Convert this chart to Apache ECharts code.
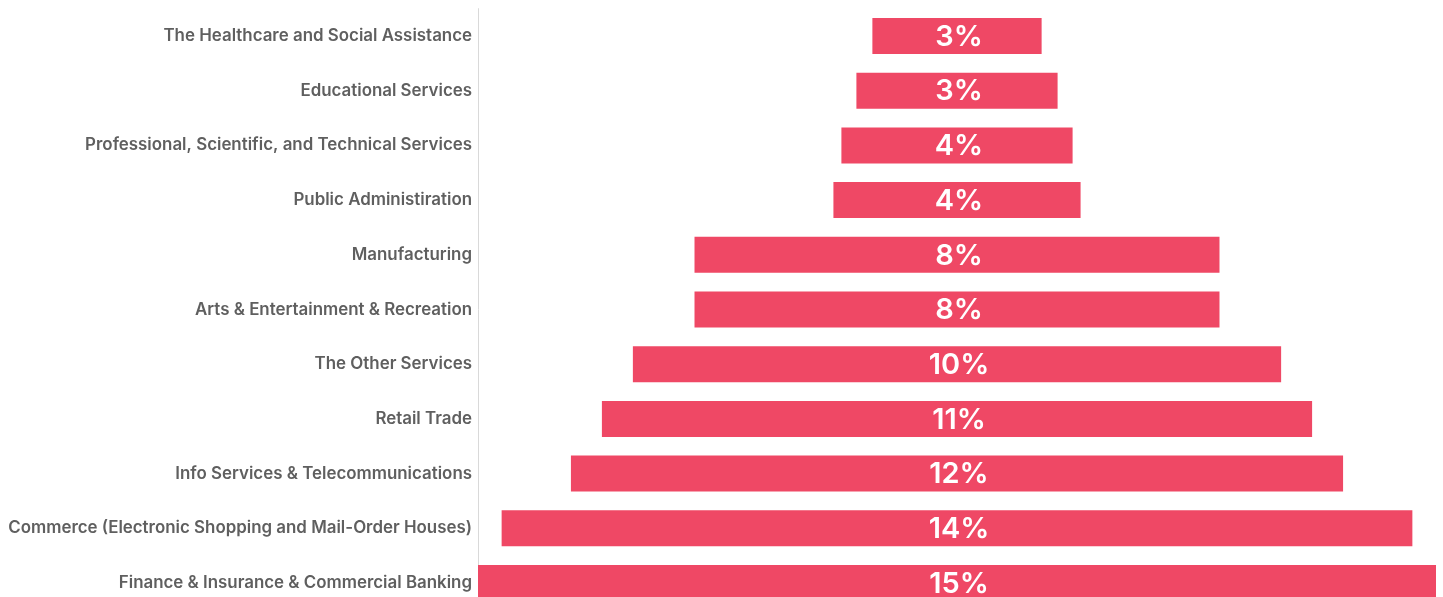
<!DOCTYPE html>
<html>
<head>
<meta charset="utf-8">
<script src="https://cdn.jsdelivr.net/npm/echarts@6/dist/echarts.min.js"></script>
<style>html,body{margin:0;padding:0;background:#fff;overflow:hidden;}#c{width:1443px;height:611px;}</style>
</head>
<body>
<div id="c"></div>
<script>
const categories = [
  "The Healthcare and Social Assistance",
  "Educational Services",
  "Professional, Scientific, and Technical Services",
  "Public Administiration",
  "Manufacturing",
  "Arts & Entertainment & Recreation",
  "The Other Services",
  "Retail Trade",
  "Info Services & Telecommunications",
  "Commerce (Electronic Shopping and Mail-Order Houses)",
  "Finance & Insurance & Commercial Banking"
];
const values = [2.65, 3.15, 3.62, 3.87, 8.22, 8.22, 10.15, 11.12, 12.09, 14.26, 15.0];
const maxValue = Math.max(...values);
const offsets = values.map(v => (maxValue - v) / 2);

const chart = echarts.init(document.getElementById('c'));
chart.setOption({
  animation: false,
  grid: {left: 478, right: 7, top: 8.65, bottom: 0.65, containLabel: false},
  xAxis: {type: 'value', min: 0, max: maxValue, show: false},
  yAxis: {
    type: 'category', inverse: true, data: categories,
    axisLine: {show: true, lineStyle: {color: '#d9d9d9', width: 1}},
    axisTick: {show: false},
    axisLabel: {color: '#5f5f5f', fontFamily: 'Inter', fontSize: 16.9, fontWeight: 600, margin: 6, padding: [3, 0, 0, 0]}
  },
  series: [
    {type: 'bar', stack: 's', data: offsets, itemStyle: {color: 'transparent'}, barWidth: 36, silent: true},
    {type: 'bar', stack: 's', data: values, barWidth: 36,
      itemStyle: {color: '#EF4865'},
      label: {show: true, position: 'inside', offset: [2, 1], color: '#ffffff', fontFamily: 'Inter', fontSize: 29, fontWeight: 600,
        formatter: p => Math.round(p.value) + '%'}
    }
  ]
});
</script>
</body>
</html>
